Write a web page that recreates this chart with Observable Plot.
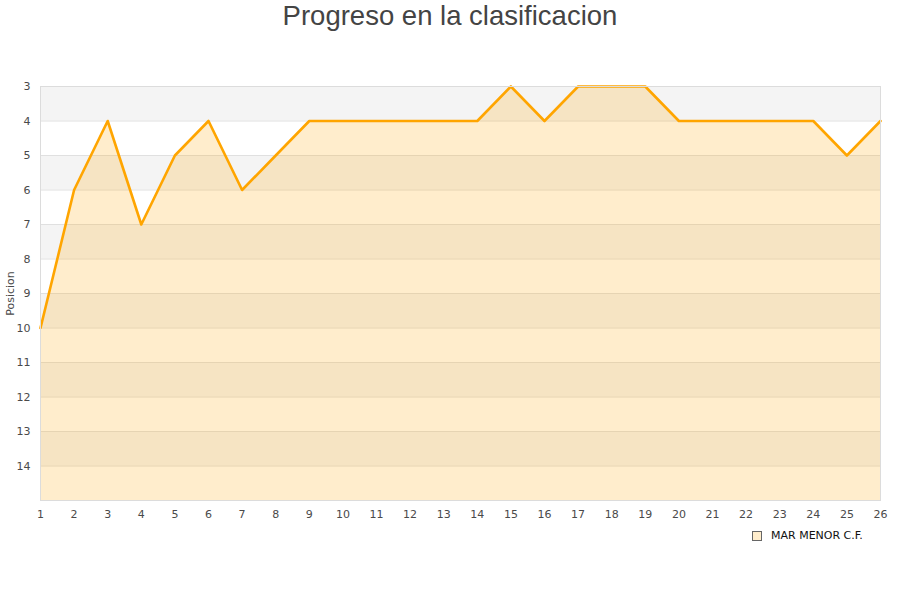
<!DOCTYPE html>
<html>
<head>
<meta charset="utf-8">
<script src="https://cdn.jsdelivr.net/npm/d3@7"></script>
<script src="https://cdn.jsdelivr.net/npm/@observablehq/plot@0.6"></script>
<style>
  html, body { margin: 0; padding: 0; background: #fff; }
  #wrap { width: 900px; height: 600px; position: relative; font-family: "DejaVu Sans", sans-serif; }
  #title { height: 40px; line-height: 31px; text-align: center; font-family: "Liberation Sans", Arial, sans-serif; font-size: 27.5px; color: #444; }
  #legend { position: absolute; left: 752px; top: 529px; font-size: 11px; color: #111; display: flex; align-items: center; }
  #legend .sw { width: 8px; height: 8px; border: 1px solid #666; background: #ffedcc; margin-right: 9px; }
</style>
</head>
<body>
<div id="wrap">
  <div id="title">Progreso en la clasificacion</div>
  <div id="chart"></div>
  <div id="legend"><span class="sw"></span><span>MAR MENOR C.F.</span></div>
</div>
<script>
const jornadas = [1,2,3,4,5,6,7,8,9,10,11,12,13,14,15,16,17,18,19,20,21,22,23,24,25,26];
const posiciones = [10,6,4,7,5,4,6,5,4,4,4,4,4,4,3,4,3,3,3,4,4,4,4,4,5,4];
const yTicks = [3,4,5,6,7,8,9,10,11,12,13,14];
const bandStarts = [3,5,7,9,11,13];
const yMin = 3, yMax = 15;

const data = jornadas.map((j, i) => ({j, pos: posiciones[i]}));
const bands = bandStarts.map(b => ({y1: b, y2: b + 1}));

const chart = Plot.plot({
  width: 900,
  height: 482,
  marginTop: 46,
  marginBottom: 22,
  marginLeft: 40,
  marginRight: 20,
  style: {fontFamily: "DejaVu Sans, sans-serif", fontSize: "11px", color: "#4a4a4a", background: "#fff"},
  x: {domain: [1, 26], ticks: jornadas, tickSize: 0, tickPadding: 10, label: null, tickFormat: d => String(d)},
  y: {domain: [yMin, yMax], reverse: true, ticks: yTicks, tickSize: 0, tickPadding: 10,
      label: "Posicion", labelAnchor: "center", labelArrow: "none", labelOffset: 34},
  marks: [
    Plot.rect(bands, {x1: 1, x2: 26, y1: "y1", y2: "y2", fill: "#f4f4f4"}),
    Plot.ruleY(yTicks, {stroke: "#e0e0e0", strokeWidth: 1}),
    Plot.areaY(data, {x: "j", y1: yMax, y2: "pos", fill: "#ffa500", fillOpacity: 0.2}),
    Plot.line(data, {x: "j", y: "pos", stroke: "#ffa500", strokeWidth: 2.6}),
    Plot.frame({stroke: "#dcdcdc"})
  ]
});
document.getElementById("chart").appendChild(chart);
</script>
</body>
</html>
